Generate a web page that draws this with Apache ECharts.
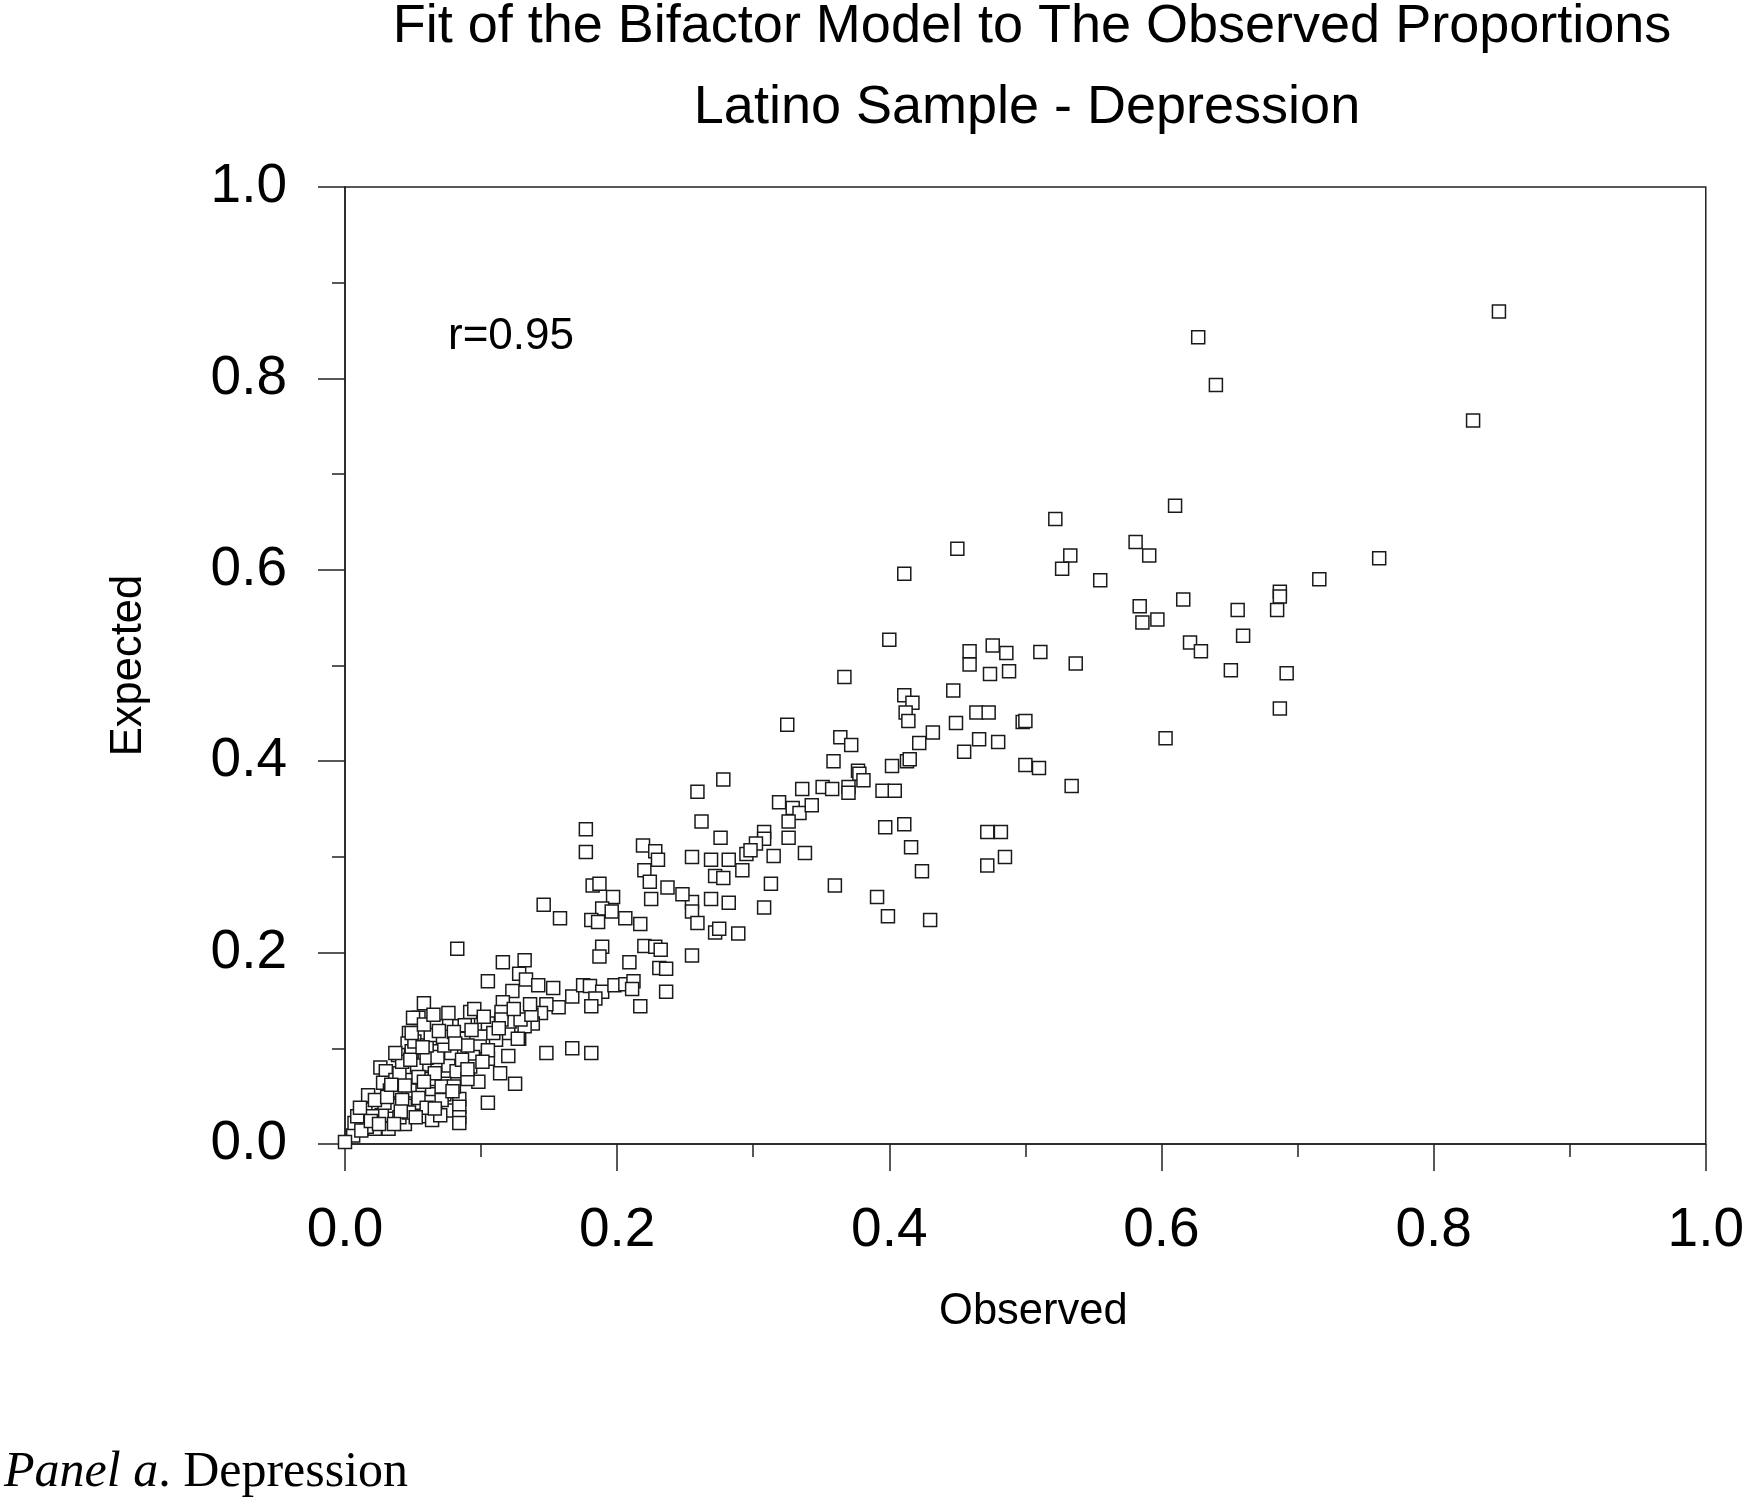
<!DOCTYPE html>
<html>
<head>
<meta charset="utf-8">
<script src="https://cdn.jsdelivr.net/npm/echarts@6/dist/echarts.min.js"></script>
<style>
html,body{margin:0;padding:0;background:#fff;}
#chart{width:1747px;height:1499px;}
</style>
</head>
<body>
<div id="chart"></div>
<script>
// Observed proportion (x) and model-expected proportion (y)
const observed = [
0.848,0.627,0.640,0.829,0.411,0.760,0.716,0.687,0.687,0.685,0.692,0.687,
0.610,0.522,0.450,0.581,0.591,0.533,0.527,0.555,0.616,0.584,0.586,0.597,0.656,0.660,0.621,0.629,0.651,0.603,
0.459,0.459,0.476,0.486,0.511,0.474,0.488,0.537,0.447,0.464,0.473,0.449,0.498,0.500,0.466,0.480,0.455,0.500,0.510,0.534,
0.472,0.482,0.485,0.472,
0.400,0.367,0.411,0.417,0.412,0.414,0.325,0.432,0.422,0.364,0.372,0.359,0.402,0.413,0.415,0.377,0.378,0.381,
0.336,0.351,0.358,0.370,0.370,0.395,0.404,0.319,0.329,0.334,0.343,0.326,0.326,0.308,0.308,0.302,0.295,0.298,0.315,0.338,
0.278,0.259,0.262,0.276,0.255,0.269,0.282,0.272,0.278,0.292,0.313,0.397,0.411,0.416,0.424,0.360,0.391,0.399,0.430,
0.269,0.282,0.308,0.255,0.255,0.259,0.272,0.275,0.289,0.255,0.248,
0.177,0.177,0.219,0.228,0.230,0.220,0.224,0.237,0.225,0.182,0.187,0.197,0.189,0.196,0.181,0.186,0.206,0.217,0.146,0.158,
0.189,0.187,0.220,0.228,0.232,0.209,0.231,0.236,0.236,0.217,
0.116,0.132,0.105,0.128,0.133,0.123,0.142,0.153,0.167,0.175,0.180,0.189,0.184,0.181,0.198,0.206,0.212,0.211,0.157,0.148,
0.144,0.138,0.128,0.120,0.121,0.116,0.132,0.111,0.100,0.099,0.105,0.114,0.125,0.120,0.098,0.105,0.148,0.167,0.181,0.094,
0.092,0.095,0.115,0.129,0.137,0.115,0.105,0.109,0.127,0.092,0.105,
0.0825,0.058,0.054,0.050,0.076,0.067,0.084,0.054,0.047,0.046,0.087,0.064,0.077,0.084,0.039,0.053,0.062,0.068,0.076,0.082,
0.026,0.030,0.028,0.037,0.045,0.062,0.073,0.090,0.033,0.037,0.050,0.057,0.064,0.073,0.084,0.017,0.015,0.035,0.044,0.054,
0.063,0.076,0.084,0.084,0.084,0.027,0.056,0.064,0.044,0.022,0.032,0.006,0.000,0.007,0.016,0.009,0.020,0.029,0.022,0.042,
0.054,0.071,0.071,0.040,0.054,0.066,0.042,0.060,0.068,0.078,0.049,0.037,0.051,0.060,0.073,0.090,0.049,0.088,0.063,
0.044,0.031,0.012,0.019,0.040,0.060,0.047,0.070,0.080,0.086,0.072,0.058,0.065,0.080,
0.034,0.048,0.057,0.069,0.081,0.093,0.102,0.113,0.124,0.136,0.041,0.052,0.066,0.079,0.090,0.101,0.025,0.036,0.011,0.058
];
const expected = [
0.870,0.843,0.793,0.756,0.596,0.612,0.590,0.577,0.572,0.558,0.492,0.455,
0.667,0.653,0.622,0.629,0.615,0.615,0.601,0.589,0.569,0.562,0.545,0.548,0.558,0.531,0.524,0.515,0.495,0.424,
0.515,0.501,0.521,0.513,0.514,0.491,0.494,0.502,0.474,0.451,0.451,0.440,0.441,0.442,0.423,0.420,0.410,0.396,0.393,0.374,
0.326,0.326,0.300,0.291,
0.527,0.488,0.469,0.461,0.451,0.442,0.438,0.430,0.419,0.425,0.417,0.400,0.395,0.400,0.402,0.390,0.387,0.380,
0.371,0.373,0.371,0.373,0.367,0.369,0.369,0.357,0.351,0.346,0.354,0.337,0.320,0.326,0.319,0.314,0.303,0.307,0.301,0.304,
0.381,0.368,0.337,0.320,0.300,0.297,0.297,0.280,0.278,0.286,0.272,0.331,0.334,0.310,0.285,0.270,0.258,0.238,0.234,
0.256,0.252,0.247,0.253,0.243,0.231,0.221,0.225,0.220,0.197,0.261,
0.329,0.305,0.312,0.306,0.297,0.286,0.274,0.268,0.256,0.270,0.272,0.258,0.246,0.243,0.234,0.232,0.236,0.230,0.250,0.236,
0.206,0.196,0.207,0.206,0.203,0.190,0.184,0.183,0.159,0.144,
0.190,0.192,0.170,0.178,0.172,0.160,0.166,0.163,0.154,0.166,0.165,0.159,0.152,0.144,0.166,0.167,0.170,0.162,0.143,0.146,
0.137,0.126,0.110,0.116,0.128,0.148,0.123,0.109,0.126,0.102,0.089,0.074,0.063,0.092,0.065,0.043,0.095,0.100,0.095,0.091,
0.138,0.141,0.138,0.130,0.135,0.130,0.126,0.116,0.110,0.081,0.098,
0.204,0.147,0.132,0.132,0.137,0.123,0.123,0.116,0.116,0.105,0.110,0.097,0.097,0.097,0.093,0.082,0.083,0.083,0.082,0.076,
0.080,0.076,0.064,0.067,0.067,0.068,0.063,0.068,0.056,0.056,0.056,0.056,0.052,0.052,0.047,0.051,0.036,0.040,0.040,0.043,
0.044,0.035,0.039,0.028,0.022,0.030,0.029,0.025,0.021,0.016,0.016,0.009,0.002,0.022,0.018,0.029,0.029,0.043,0.046,0.046,
0.048,0.046,0.060,0.074,0.070,0.074,0.086,0.090,0.091,0.095,0.097,0.095,0.107,0.103,0.103,0.103,0.116,0.124,0.114,
0.061,0.049,0.014,0.024,0.028,0.038,0.033,0.030,0.060,0.088,0.112,0.125,0.135,0.117,
0.062,0.088,0.101,0.118,0.105,0.119,0.133,0.121,0.141,0.146,0.034,0.028,0.037,0.055,0.078,0.086,0.021,0.021,0.038,0.065
];
const axisTicks = [0.0, 0.2, 0.4, 0.6, 0.8, 1.0];
const titleLines = ['Fit of the Bifactor Model to The Observed Proportions', 'Latino Sample - Depression'];
const annotation = 'r=0.95';

const points = observed.map((x, i) => [x, expected[i]]);
const FONT = '"Liberation Sans", Arial, sans-serif';
const SERIF = '"Liberation Serif", "Times New Roman", serif';
const AX = '#222';

const chart = echarts.init(document.getElementById('chart'), null, {renderer: 'canvas'});
chart.setOption({
  backgroundColor: '#fff',
  animation: false,
  grid: {left: 345, right: 33, top: 187, bottom: 355, show: true, borderColor: AX, borderWidth: 1.5, backgroundColor: 'transparent'},
  xAxis: {
    type: 'value', min: 0, max: 1, interval: 0.2,
    name: 'Observed', nameLocation: 'middle', nameGap: 146,
    nameTextStyle: {fontFamily: FONT, fontSize: 43.5, color: '#000', padding: [0, 0, 0, 16]},
    axisLine: {show: true, lineStyle: {color: AX, width: 1.5}},
    axisTick: {show: true, inside: false, length: 27, lineStyle: {color: AX, width: 1.5}},
    minorTick: {show: true, splitNumber: 2, length: 13, lineStyle: {color: AX, width: 1.5}},
    splitLine: {show: false},
    axisLabel: {fontFamily: FONT, fontSize: 55, color: '#000', margin: 59,
      formatter: v => axisTicks.some(t => Math.abs(t - v) < 1e-9) ? v.toFixed(1) : ''}
  },
  yAxis: {
    type: 'value', min: 0, max: 1, interval: 0.2,
    name: 'Expected', nameLocation: 'middle', nameGap: 194, nameRotate: 90,
    nameTextStyle: {fontFamily: FONT, fontSize: 43.5, color: '#000'},
    axisLine: {show: true, lineStyle: {color: AX, width: 1.5}},
    axisTick: {show: true, inside: false, length: 27, lineStyle: {color: AX, width: 1.5}},
    minorTick: {show: true, splitNumber: 2, length: 13, lineStyle: {color: AX, width: 1.5}},
    splitLine: {show: false},
    axisLabel: {fontFamily: FONT, fontSize: 55, color: '#000', margin: 58,
      formatter: v => axisTicks.some(t => Math.abs(t - v) < 1e-9) ? v.toFixed(1) : ''}
  },
  graphic: [
    {type: 'text', style: {text: titleLines[0], x: 1032, y: 27, textAlign: 'center', textVerticalAlign: 'middle', font: '54px ' + FONT, fill: '#000'}},
    {type: 'text', style: {text: titleLines[1], x: 1027, y: 108, textAlign: 'center', textVerticalAlign: 'middle', font: '54px ' + FONT, fill: '#000'}},
    {type: 'text', style: {text: annotation, x: 448, y: 337, textAlign: 'left', textVerticalAlign: 'middle', font: '44px ' + FONT, fill: '#000'}},
    {type: 'text', style: {
      text: '{i|Panel a}{n|. Depression}', x: 4, y: 1473, textAlign: 'left', textVerticalAlign: 'middle',
      rich: {
        i: {fontFamily: SERIF, fontStyle: 'italic', fontSize: 50, fill: '#000', color: '#000'},
        n: {fontFamily: SERIF, fontSize: 50, fill: '#000', color: '#000'}
      }}}
  ],
  series: [{
    type: 'scatter', data: points, clip: false,
    symbol: 'rect', symbolSize: 13,
    itemStyle: {color: '#fff', borderColor: '#1a1a1a', borderWidth: 1.5, opacity: 1},
    emphasis: {disabled: true}
  }]
});
</script>
</body>
</html>
